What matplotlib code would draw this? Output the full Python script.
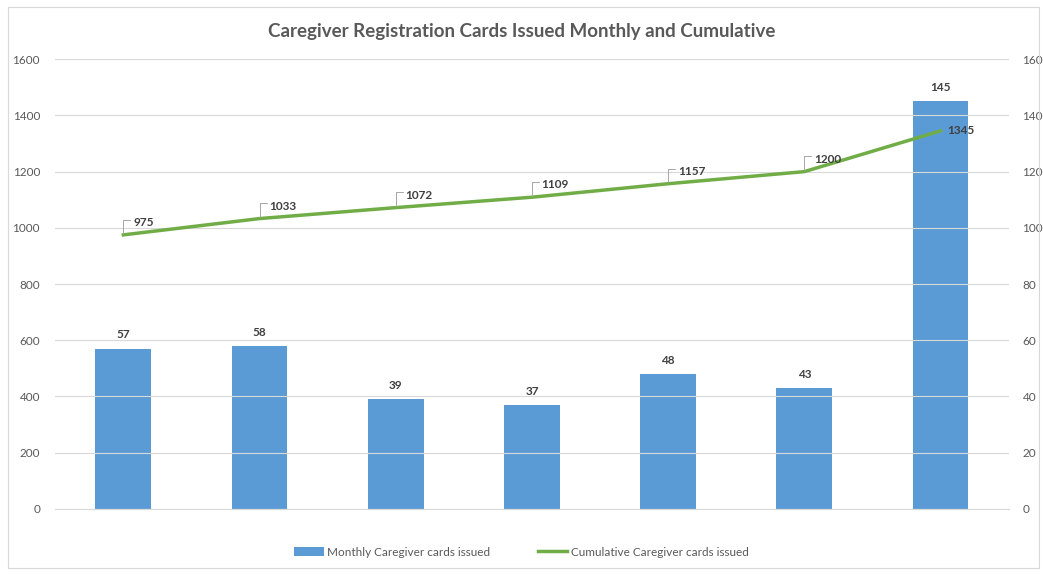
import matplotlib.pyplot as plt
from matplotlib.patches import Rectangle
import numpy as np

# Data
months = ['Jan-20', 'Feb-20', 'Mar-20', 'Apr-20', 'May-20', 'Jun-20', 'Jul-20']
monthly = [57, 58, 39, 37, 48, 43, 145]
cumulative = [975, 1033, 1072, 1109, 1157, 1200, 1345]

plt.rcParams['font.family'] = ['Lato', 'DejaVu Sans']
txt = '#595959'
grid = '#d9d9d9'

fig = plt.figure(figsize=(10.43, 5.75), dpi=100)
ax = fig.add_axes([0.053, 0.115, 0.914, 0.782])
ax2 = ax.twinx()

x = np.arange(len(months))

# bars on the right axis (0-160)
bars = ax2.bar(x, monthly, width=0.41, color='#5B9BD5', zorder=2,
               label='Monthly Caregiver cards issued')
for xi, v in zip(x, monthly):
    ax2.annotate(str(v), (xi, v), xytext=(0, 6), textcoords='offset points',
                 ha='center', va='bottom', fontsize=8.5, fontweight='bold', color='#404040')

# line on the left axis (0-1600)
line, = ax.plot(x, cumulative, color='#70AD47', lw=2.5, zorder=3,
                label='Cumulative Caregiver cards issued')
ax.set_zorder(ax2.get_zorder() + 1)
ax.patch.set_visible(False)
for i, (xi, v) in enumerate(zip(x, cumulative)):
    if i < len(x) - 1:
        ax.annotate(str(v), (xi, v), xytext=(7, 5), textcoords='offset points',
                    ha='left', va='bottom', fontsize=8.5, fontweight='bold', color='#404040',
                    arrowprops=dict(arrowstyle='-', color='#a6a6a6', lw=0.7,
                                    shrinkA=0, shrinkB=1, relpos=(0, 0.75),
                                    connectionstyle='angle,angleA=0,angleB=90,rad=0'))
    else:
        ax.annotate(str(v), (xi, v), xytext=(5, 0), textcoords='offset points',
                    ha='left', va='center', fontsize=8.5, fontweight='bold', color='#404040')

ax.set_xlim(-0.5, len(x) - 0.5)
ax.set_ylim(0, 1600)
ax2.set_ylim(0, 160)
ax.set_yticks(range(0, 1601, 200))
ax2.set_yticks(range(0, 161, 20))
ax.set_xticks(x)
ax.set_xticklabels(months)

for a in (ax, ax2):
    for s in a.spines.values():
        s.set_visible(False)
    a.tick_params(axis='y', length=0, labelsize=8.5, labelcolor=txt, pad=11)
ax2.tick_params(axis='y', pad=10)
ax.tick_params(axis='x', length=0, labelsize=8.5, labelcolor=txt, pad=8)
ax.grid(axis='y', color=grid, lw=0.8)
ax.set_axisbelow(True)
ax.spines['bottom'].set_visible(True)
ax.spines['bottom'].set_color(grid)
ax2.set_xticks([])

fig.text(0.5, 0.945, 'Caregiver Registration Cards Issued Monthly and Cumulative',
         ha='center', va='center', fontsize=13.5, fontweight='bold', color=txt)

fig.legend(handles=[bars, line], loc='center', bbox_to_anchor=(0.5, 0.04), ncol=2,
           frameon=False, fontsize=8.5, labelcolor=txt, handlelength=2.5,
           handletextpad=0.3, columnspacing=4)

fig.patches.append(Rectangle((0.008, 0.012), 0.988, 0.975, transform=fig.transFigure,
                             fill=False, edgecolor='#d9d9d9', lw=0.8))

fig.savefig('out.png', dpi=100)
